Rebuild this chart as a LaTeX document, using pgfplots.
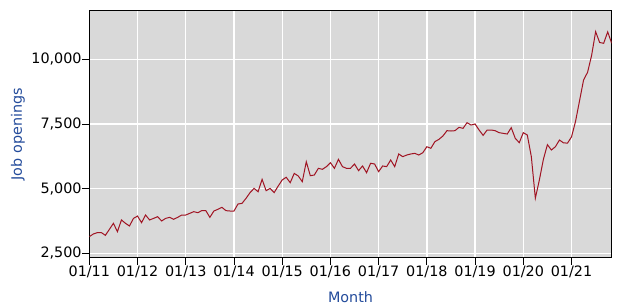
\documentclass[border=0pt]{standalone}
\usepackage{pgfplots}
\pgfplotsset{compat=1.18}
\usepackage{fontspec}
\setmainfont{DejaVu Sans}
\definecolor{bgray}{RGB}{217,217,217}
\definecolor{lred}{RGB}{160,20,35}
\definecolor{lblue}{RGB}{35,75,155}
\begin{document}
\begin{tikzpicture}
\useasboundingbox (-89.3bp,-49.3bp) rectangle (527.7bp,257.7bp);
\begin{axis}[
  at={(0,0)}, anchor=south west,
  scale only axis, width=522.4bp, height=247bp,
  xmin=0, xmax=130, ymin=2330, ymax=11880,
  axis background/.style={fill=bgray},
  xtick={0,12,24,36,48,60,72,84,96,108,120},
  xticklabels={01/11,01/12,01/13,01/14,01/15,01/16,01/17,01/18,01/19,01/20,01/21},
  ytick={2500,5000,7500,10000},
  scaled y ticks=false,
  yticklabel={\pgfmathprintnumber[fixed,1000 sep={,},assume math mode=true]{\tick}},
  grid=major, major grid style={white, line width=1.3bp},
  tick align=outside, tick pos=left, major tick length=7bp,
  tick style={black, line width=0.8bp},
  axis line style={black, line width=0.8bp},
  ticklabel style={font=\fontsize{14.4}{16}\selectfont},
  yticklabel style={inner xsep=0.5bp},
  xticklabel style={inner ysep=1bp},
  xlabel={Month}, ylabel={Job openings},
  every axis y label/.style={at={(axis description cs:-0.1365,0.5)}, rotate=90, anchor=center, font=\fontsize{14.4}{16}\selectfont, text=lblue},
  every axis x label/.style={at={(axis description cs:0.5,-0.159)}, anchor=center, font=\fontsize{14.4}{16}\selectfont, text=lblue},
  clip=true,
]
\addplot[lred, line width=1bp] coordinates {
(0,3144)(1,3247)(2,3300)(3,3300)(4,3195)(5,3427)(6,3660)(7,3337)(8,3790)(9,3660)
(10,3556)(11,3850)(12,3940)(13,3685)(14,3980)(15,3790)(16,3850)(17,3917)(18,3750)(19,3850)
(20,3890)(21,3815)(22,3890)(23,3980)(24,3980)(25,4045)(26,4110)(27,4070)(28,4150)(29,4150)
(30,3890)(31,4135)(32,4200)(33,4277)(34,4150)(35,4135)(36,4135)(37,4406)(38,4430)(39,4625)
(40,4845)(41,5010)(42,4880)(43,5360)(44,4920)(45,5010)(46,4845)(47,5100)(48,5335)(49,5440)
(50,5230)(51,5590)(52,5490)(53,5270)(54,6040)(55,5500)(56,5528)(57,5786)(58,5747)(59,5850)
(60,6005)(61,5786)(62,6133)(63,5850)(64,5786)(65,5786)(66,5953)(67,5695)(68,5876)(69,5618)
(70,5980)(71,5953)(72,5657)(73,5876)(74,5850)(75,6108)(76,5850)(77,6340)(78,6236)(79,6300)
(80,6340)(81,6365)(82,6300)(83,6390)(84,6620)(85,6560)(86,6816)(87,6906)(88,7035)(89,7241)
(90,7228)(91,7241)(92,7370)(93,7331)(94,7550)(95,7460)(96,7500)(97,7267)(98,7060)(99,7267)
(100,7267)(101,7241)(102,7164)(103,7138)(104,7112)(105,7357)(106,6945)(107,6777)(108,7164)(109,7073)
(110,6236)(111,4630)(112,5335)(113,6133)(114,6700)(115,6494)(116,6623)(117,6880)(118,6770)(119,6760)
(120,7000)(121,7600)(122,8400)(123,9200)(124,9500)(125,10150)(126,11070)(127,10650)(128,10620)(129,11060)
(130,10620)
};
\end{axis}
\end{tikzpicture}
\end{document}
